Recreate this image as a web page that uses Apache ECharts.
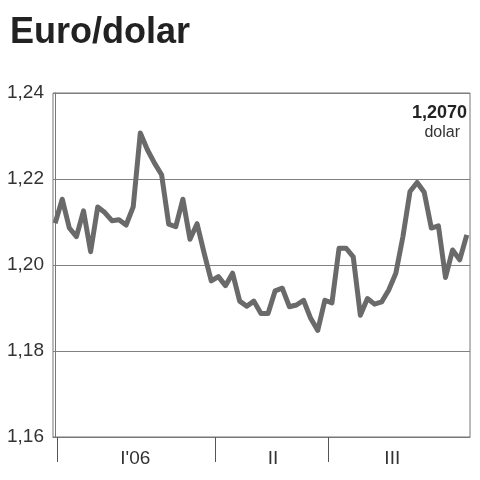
<!DOCTYPE html>
<html>
<head>
<meta charset="utf-8">
<script src="https://cdn.jsdelivr.net/npm/echarts@6/dist/echarts.min.js"></script>
<style>
  html, body { margin: 0; padding: 0; background: #fff; }
  #chart { width: 480px; height: 480px; }
</style>
</head>
<body>
<div id="chart"></div>
<script>
// euro/dollar rate, one point per reading
const rates = [
  1.2097, 1.2153, 1.2086, 1.2066, 1.2126, 1.2031, 1.2135, 1.2122, 1.2103, 1.2105,
  1.2093, 1.2135, 1.2307, 1.2268, 1.2237, 1.2210, 1.2095, 1.2089, 1.2153, 1.2060,
  1.2096, 1.2027, 1.1963, 1.1973, 1.1952, 1.1981, 1.1916, 1.1904, 1.1916, 1.1887,
  1.1887, 1.1940, 1.1946, 1.1903, 1.1907, 1.1918, 1.1876, 1.1848, 1.1918, 1.1912,
  1.2039, 1.2039, 1.2019, 1.1883, 1.1922, 1.1909, 1.1914, 1.1942, 1.1981, 1.2066,
  1.2171, 1.2192, 1.2169, 1.2086, 1.2091, 1.1971, 1.2035, 1.2012, 1.2070
]
// quarter boundaries and quarter labels (in point index units)
const quarterTicks = [0.3, 22.5, 38.5]
const quarterLabels = ["I'06", 'II', 'III']
const quarterLabelPos = [11.3, 30.7, 47.5]
const lastValue = '1,2070'
const unit = 'dolar'

const chart = echarts.init(document.getElementById('chart'))

chart.setOption({
  animation: false,
  title: {
    text: 'Euro/dolar',
    left: 5,
    top: 10,
    textStyle: {
      fontFamily: 'Liberation Sans',
      fontWeight: 'bold',
      fontSize: 36,
      color: '#222'
    }
  },
  grid: {
    left: 53,
    right: 10,
    top: 93,
    bottom: 43,
    show: true,
    borderColor: '#777',
    borderWidth: 1
  },
  xAxis: {
    type: 'value',
    min: -0.3,
    max: 58.45,
    splitLine: { show: false },
    axisLine: { show: true, lineStyle: { color: '#777' } },
    axisTick: {
      show: true,
      customValues: quarterTicks,
      length: 25,
      lineStyle: { color: '#555' }
    },
    axisLabel: {
      customValues: quarterLabelPos,
      margin: 12,
      fontFamily: 'Liberation Sans',
      fontSize: 19,
      color: '#333',
      formatter: v => quarterLabels[quarterLabelPos.indexOf(v)] || ''
    }
  },
  yAxis: {
    type: 'value',
    min: 1.16,
    max: 1.24,
    interval: 0.02,
    axisLine: { show: true, lineStyle: { color: '#777' } },
    axisTick: { show: false },
    splitLine: { lineStyle: { color: '#808080' } },
    axisLabel: {
      margin: 9,
      fontFamily: 'Liberation Sans',
      fontSize: 19,
      color: '#333',
      formatter: v => v.toFixed(2).replace('.', ',')
    }
  },
  graphic: [
    {
      type: 'text',
      right: 13,
      top: 104,
      style: {
        text: lastValue,
        fontFamily: 'Liberation Sans',
        fontWeight: 'bold',
        fontSize: 18,
        fill: '#222'
      }
    },
    {
      type: 'text',
      right: 20,
      top: 125,
      style: {
        text: unit,
        fontFamily: 'Liberation Sans',
        fontSize: 16,
        fill: '#333'
      }
    }
  ],
  series: [{
    type: 'line',
    data: rates.map((v, i) => [i, v]),
    symbol: 'none',
    lineStyle: { color: '#6a6a6a', width: 5, join: 'round' }
  }]
})
</script>
</body>
</html>
